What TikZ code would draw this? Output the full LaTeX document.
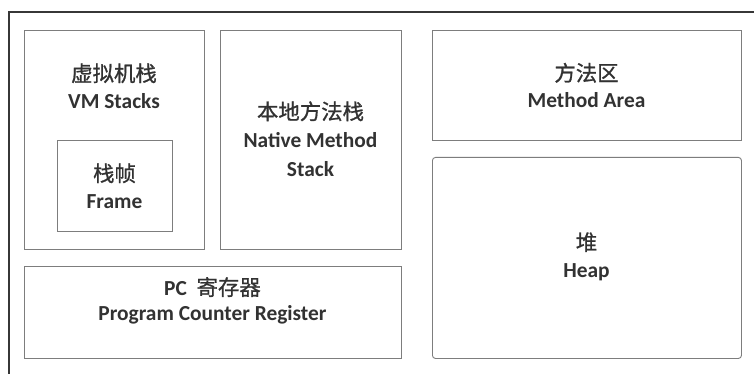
\documentclass[tikz,border=0pt]{standalone}
\usepackage{fontspec}
\setmainfont{Carlito}
\newfontfamily\cjk[FakeBold=0.9]{Noto Sans CJK SC}
\usepackage{xcolor}
\usepackage{tikz}
\definecolor{GrisMarco}{RGB}{55,55,55}
\definecolor{GrisCaja}{RGB}{125,125,125}
\definecolor{GrisTexto}{RGB}{50,50,50}
\newcommand{\zh}[1]{{\cjk\mdseries #1}}

\begin{document}
\begin{tikzpicture}[x=1pt,y=-1pt,
  caja/.style={draw=GrisCaja,line width=0.9pt,inner sep=0pt,anchor=north west},
  rotulo/.style={text=GrisTexto,font=\fontsize{21.4}{27}\selectfont\bfseries,align=center}]
  \useasboundingbox[fill=white] (0,0) rectangle (754,374);

  % Marco exterior
  \draw[GrisMarco,line width=1.3pt] (754,12) -- (9,12) -- (9,374);

  % Pila de la VM y su marco
  \node[caja,minimum width=180pt,minimum height=219pt] (vm) at (24,30) {};
  \node[rotulo] (vmtxt) at (114,86) {\zh{虚拟机栈}\\VM Stacks};
  \node[caja,minimum width=115pt,minimum height=91pt] (frame) at (57,140) {};
  \node[rotulo] (frametxt) at (114.5,186) {\zh{栈帧}\\Frame};

  % Pila nativa
  \node[caja,minimum width=181pt,minimum height=219pt] (native) at (220,30) {};
  \node[rotulo,font=\fontsize{21.4}{28.5}\selectfont\bfseries] (nativetxt) at (310.5,139) {\zh{本地方法栈}\\Native Method\\Stack};

  % Contador de programa
  \node[caja,minimum width=377pt,minimum height=92pt] (pc) at (24,266) {};
  \node[rotulo,font=\fontsize{21.4}{25}\selectfont\bfseries] (pctxt) at (212.5,300.5) {PC\ \ \zh{寄存器}\\Program Counter Register};

  % Area de metodos
  \node[caja,minimum width=309pt,minimum height=110pt] (method) at (432,30) {};
  \node[rotulo] (methodtxt) at (586.5,85.5) {\zh{方法区}\\Method Area};

  % Monticulo
  \node[caja,rounded corners=3pt,minimum width=309pt,minimum height=201pt] (heap) at (432,157) {};
  \node[rotulo] (heaptxt) at (586.5,256.5) {\zh{堆}\\Heap};
\end{tikzpicture}
\end{document}
